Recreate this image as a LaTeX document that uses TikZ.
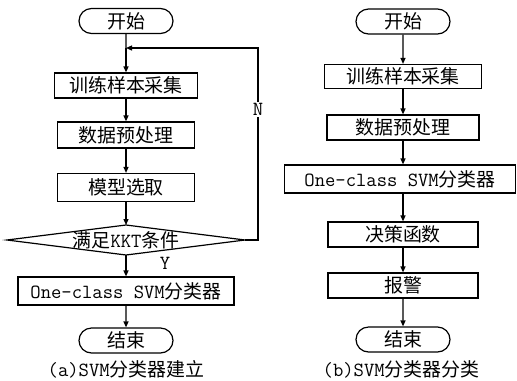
\documentclass[tikz,border=0pt]{standalone}
\usepackage{fontspec}
\setmainfont{Noto Sans CJK SC}
\setmonofont[Scale=1.06]{Latin Modern Mono}
\usetikzlibrary{shapes.misc,arrows.meta}
\begin{document}
\begin{tikzpicture}[x=1bp,y=-1bp,line width=1.2bp,
  txt/.style={font=\fontsize{19}{21}\selectfont},
  box/.style={txt,draw,rectangle,inner sep=0pt},
  pill/.style={txt,draw,rounded rectangle,inner sep=0pt,minimum width=94bp,minimum height=25bp},
  arr/.style={-{Triangle[length=6bp,width=5bp]}},
  lbl/.style={font=\fontsize{19}{21}\selectfont\ttfamily,inner sep=1bp}]
\useasboundingbox (0,0) rectangle (517,380);
% ---------- (a) ----------
\node[pill] (a0) at (126,21) {开始};
\node[box,minimum width=143bp,minimum height=25bp] (a1) at (126,85.5) {训练样本采集};
\node[box,minimum width=137bp,minimum height=26bp] (a2) at (126,135) {数据预处理};
\node[box,minimum width=137bp,minimum height=28bp] (a3) at (126,187.5) {模型选取};
\coordinate (dt) at (126,225);
\coordinate (db) at (126,255);
\coordinate (dl) at (7,240);
\coordinate (dr) at (245,240);
\draw (dl) -- (dt) -- (dr) -- (db) -- cycle;
\node[txt,inner sep=0pt] (a4) at (126,240) {满足\texttt{KKT}条件};
\node[box,minimum width=216bp,minimum height=28bp] (a5) at (126,291) {\texttt{One-class SVM}分类器};
\node[pill] (a6) at (126,340.5) {结束};
\node[txt,inner sep=0pt] (capa) at (126,369) {\texttt{(a)SVM}分类器建立};
\coordinate (j) at (126,48);
\coordinate (lr) at (258,240);
\coordinate (lt) at (258,48);
\draw (a0) -- (j);
\draw[arr] (j) -- (a1);
\draw[arr] (a1) -- (a2);
\draw[arr] (a2) -- (a3);
\draw[arr] (a3) -- (dt);
\draw[arr] (db) -- node[lbl,pos=0.4,xshift=39bp] (ylab) {Y} (a5);
\draw[arr] (a5) -- (a6);
\draw[arr] (dr) -- (lr) -- node[lbl,fill=white,pos=0.68] (nlab) {N} (lt) -- (j);
% ---------- (b) ----------
\node[pill] (b0) at (403,21.5) {开始};
\node[box,minimum width=157bp,minimum height=24bp] (b1) at (403,76.5) {训练样本采集};
\node[box,minimum width=152bp,minimum height=25bp] (b2) at (403,127.5) {数据预处理};
\node[box,minimum width=231bp,minimum height=28bp] (b3) at (400,179) {\texttt{One-class SVM}分类器};
\node[box,minimum width=150bp,minimum height=25bp] (b4) at (403,234.5) {决策函数};
\node[box,minimum width=150bp,minimum height=25bp] (b5) at (403,285.5) {报警};
\node[pill] (b6) at (403,339.5) {结束};
\node[txt,inner sep=0pt] (capb) at (401,369) {\texttt{(b)SVM}分类器分类};
\draw[arr] (b0) -- (b1);
\draw[arr] (b1) -- (b2);
\draw[arr] (b2.south) -- (b2.south |- b3.north);
\draw[arr] (b3.south -| b4.north) -- (b4.north);
\draw[arr] (b4) -- (b5);
\draw[arr] (b5) -- (b6);
\end{tikzpicture}
\end{document}
